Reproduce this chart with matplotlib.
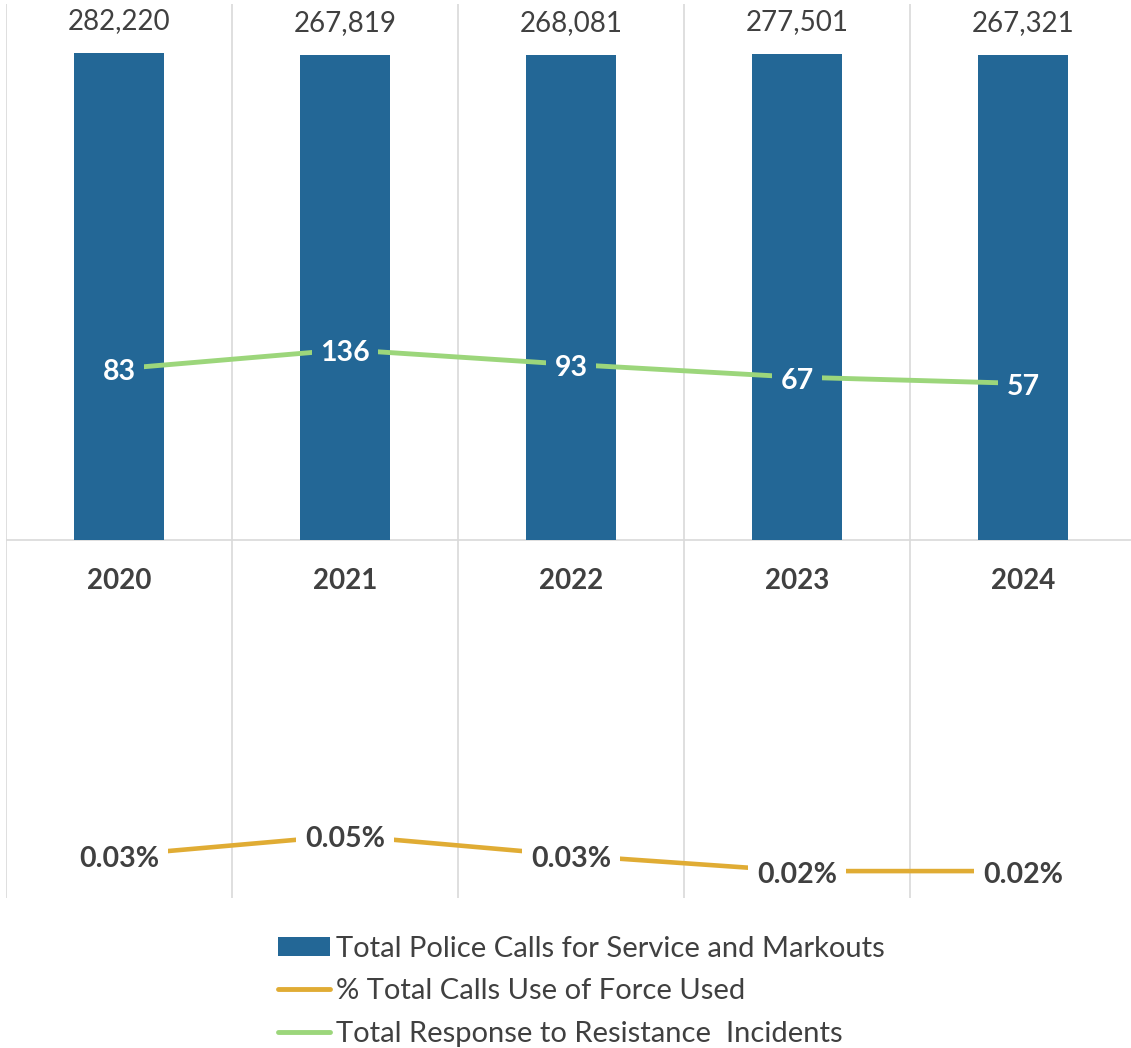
import matplotlib
matplotlib.use("Agg")
import matplotlib.pyplot as plt
import numpy as np
from matplotlib.lines import Line2D
from matplotlib.patches import Patch
import matplotlib.transforms as mtransforms

years = ["2020", "2021", "2022", "2023", "2024"]
calls = [282220, 267819, 268081, 277501, 267321]
incidents = [83, 136, 93, 67, 57]
pct_force = [0.0003, 0.0005, 0.0003, 0.0002, 0.0002]  # fraction of calls (0.03% ...)

bar_color = "#236796"
orange = "#E0AC34"
green = "#9CD67B"
text_color = "#404040"
grid_color = "#D9D9D9"

plt.rcParams['font.family'] = ['Lato', 'DejaVu Sans']

W, H = 1131, 1048
fig = plt.figure(figsize=(W / 100, H / 100), dpi=100)
ax = fig.add_axes([6 / W, (H - 898) / H, 1130 / W, 894 / H])
ax.set_yscale('log')
ax.set_ylim(1e-4, 1e6)
ax.set_xlim(-0.5, 4.5)
x = np.arange(len(years))

for s in ax.spines.values():
    s.set_visible(False)
ax.set_xticks([])
ax.set_yticks([])
ax.minorticks_off()
ax.yaxis.set_major_locator(matplotlib.ticker.NullLocator())
ax.yaxis.set_minor_locator(matplotlib.ticker.NullLocator())
for b in np.arange(-0.5, 5, 1):
    ax.axvline(b, color=grid_color, lw=1.2, zorder=0)
ax.axhline(1, color=grid_color, lw=1.2, zorder=1)

# bars from the axis crossing value 1
ax.bar(x, np.array(calls) - 1, bottom=1, width=0.4, color=bar_color, zorder=2)
for xi, v in zip(x, calls):
    ax.annotate(f"{v:,}", (xi, v), xytext=(0, 23), textcoords='offset points',
                ha='center', va='center', fontsize=20, color=text_color, zorder=5)

# year labels just below the horizontal axis
trans = mtransforms.blended_transform_factory(ax.transData, ax.transAxes)
for xi, y in zip(x, years):
    ax.text(xi, (898 - 581) / 894, y, transform=trans, ha='center', va='center',
            fontsize=20, fontweight='bold', color=text_color)

ax.plot(x, pct_force, color=orange, lw=3.3, zorder=3, solid_capstyle='butt')
ax.plot(x, incidents, color=green, lw=3.5, zorder=3, solid_capstyle='butt')

for xi, v in zip(x, incidents):
    ax.annotate(f"{v}", (xi, v), xytext=(0, -2.5), textcoords='offset points',
                ha='center', va='center', fontsize=20.5, fontweight='bold',
                color='white', zorder=6,
                bbox=dict(boxstyle='square,pad=0.3', facecolor=bar_color, edgecolor='none'))
for xi, v in zip(x, pct_force):
    ax.annotate(f"{v * 100:.2f}%", (xi, v), xytext=(0, -2.5), textcoords='offset points',
                ha='center', va='center', fontsize=20.5,
                fontweight='bold', color=text_color, zorder=6,
                bbox=dict(boxstyle='square,pad=0.3', facecolor='white', edgecolor='none'))

handles = [Patch(facecolor=bar_color, edgecolor='none'),
           Line2D([], [], color=orange, lw=3.5, solid_capstyle='round'),
           Line2D([], [], color=green, lw=3.5, solid_capstyle='round')]
labels = ["Total Police Calls for Service and Markouts",
          "% Total Calls Use of Force Used",
          "Total Response to Resistance  Incidents"]
fig.legend(handles, labels, loc='upper left', bbox_to_anchor=(278 / W, 1 - 936 / H),
           frameon=False, fontsize=21, handlelength=1.78, handleheight=0.62,
           handletextpad=0.2, labelspacing=0.56, borderpad=0, borderaxespad=0,
           labelcolor=text_color)

fig.savefig("out.png", dpi=100)
